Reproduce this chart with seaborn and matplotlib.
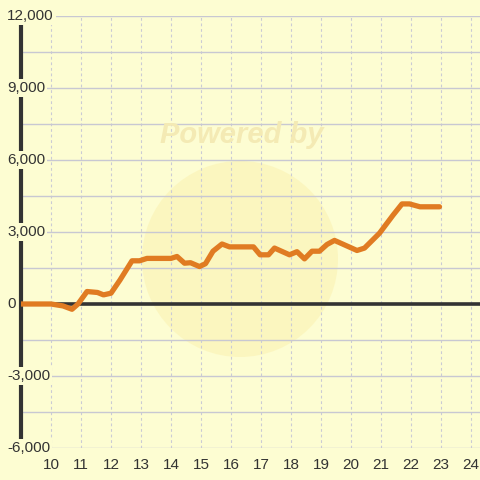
import matplotlib
matplotlib.use("Agg")
import matplotlib.pyplot as plt
import seaborn as sns
import pandas as pd
from matplotlib.patches import Circle

# values
x_vals = [9.0, 10.0, 10.4, 10.7, 10.9, 11.2, 11.55, 11.75, 12.0, 12.3, 12.7,
          12.95, 13.2, 14.0, 14.2, 14.45, 14.65, 14.95, 15.15, 15.4, 15.7,
          15.95, 16.75, 16.97, 17.25, 17.45, 17.95, 18.2, 18.45, 18.7, 18.95,
          19.2, 19.45, 20.2, 20.45, 20.95, 21.4, 21.7, 21.95, 22.3, 22.95]
y_vals = [0, 0, -80, -220, 0, 520, 480, 380, 450, 1000, 1800,
          1800, 1900, 1900, 1980, 1700, 1720, 1560, 1680, 2200, 2500,
          2380, 2380, 2050, 2050, 2330, 2050, 2180, 1880, 2200, 2200,
          2480, 2650, 2230, 2330, 2950, 3700, 4170, 4170, 4050, 4050]
x_ticks = list(range(10, 25))
y_ticks = [-6000, -3000, 0, 3000, 6000, 9000, 12000]

bg = "#FDFDD2"
sns.set_theme(style="white")
plt.rcParams["font.family"] = ["Liberation Sans", "DejaVu Sans"]

df = pd.DataFrame({"x": x_vals, "y": y_vals})

fig = plt.figure(figsize=(4.8, 4.8), dpi=100, facecolor=bg)
ax = fig.add_axes([21 / 480, 32 / 480, 459 / 480, 432 / 480])
ax.set_facecolor("none")

# faint watermark
ax.add_patch(Circle((240, 480 - 259), 98, transform=None, facecolor="#FBF1B0",
                    alpha=0.55, edgecolor="none", zorder=0.1))
fig.text(242 / 480, 1 - 135 / 480, "Powered by", ha="center", va="center",
         fontsize=21, fontweight="bold", fontstyle="italic", color="#F4EAB4",
         zorder=0)

sns.lineplot(data=df, x="x", y="y", ax=ax, color="#E07B22", linewidth=3.8,
             zorder=3)
ax.axhline(0, color="#333333", linewidth=2.6, zorder=2)

ax.set_xlim(9, 24.3)
ax.set_ylim(-6000, 12000)
ax.set_xticks(x_ticks)
ax.set_yticks(y_ticks)
ax.set_yticks([v + 1500 for v in y_ticks[:-1]], minor=True)
ax.set_axisbelow(True)
ax.grid(axis="y", which="both", color="#C8C8D2", linewidth=1.0, linestyle="-")
ax.grid(axis="x", which="major", color="#CBCBD4", linewidth=0.8,
        linestyle=(0, (2.5, 2.5)))

ax.set_xlabel("")
ax.set_ylabel("")
ax.tick_params(axis="both", which="both", length=0)
ax.tick_params(axis="x", pad=7, labelsize=11, labelcolor="#333333")
ax.set_yticklabels([])

for v in y_ticks:
    ax.text(-14 / 459, v, f"{v:,}", transform=ax.get_yaxis_transform(),
            ha="left", va="center", fontsize=11, color="#333333", zorder=5,
            clip_on=False,
            bbox=dict(facecolor=bg, edgecolor="none", pad=1.5))

for side in ["top", "right", "bottom"]:
    ax.spines[side].set_visible(False)
ax.spines["left"].set_color("#333333")
ax.spines["left"].set_linewidth(3)

fig.savefig("out.png", dpi=100, facecolor=bg)
